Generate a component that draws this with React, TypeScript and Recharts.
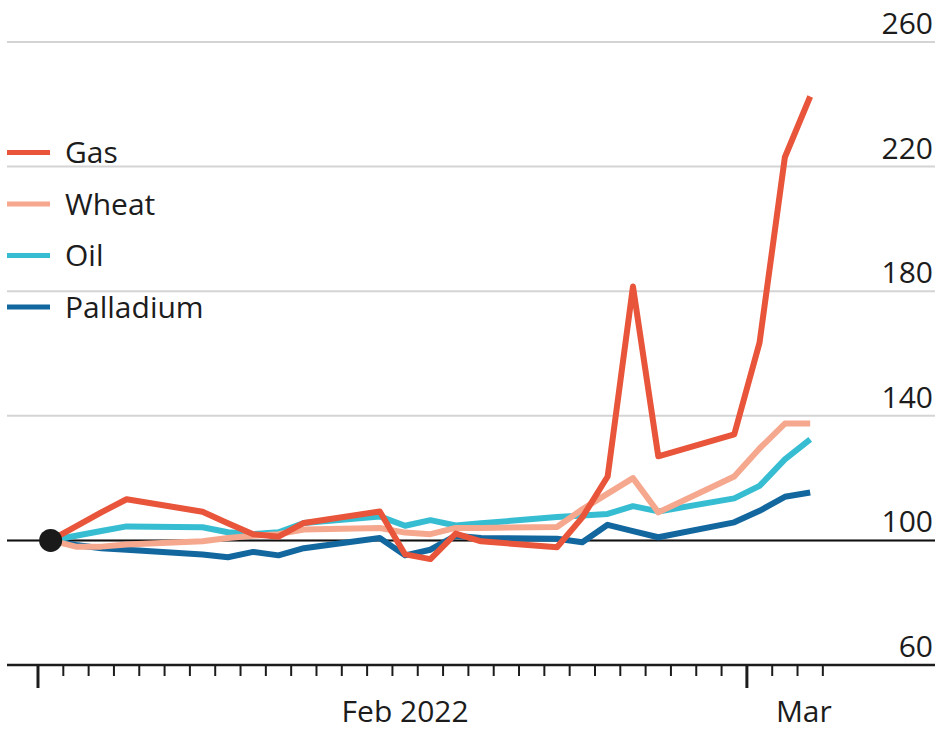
import { LineChart, Line, XAxis, YAxis, CartesianGrid, ReferenceLine, ReferenceDot, Legend } from "recharts";

// trading days, counted from 1 Feb 2022 (Mar 1 = 29)
const tradingDays = [1, 2, 3, 4, 7, 8, 9, 10, 11, 14, 15, 16, 17, 18, 21, 22, 23, 24, 25, 28, 29, 30, 31];

// prices indexed to 1 Feb = 100
const gas = [100, 104.5, 109, 113.2, 109.2, 105.5, 102, 101.2, 105.6, 109.3, 95.5, 94, 102.2, 99.7, 97.8, 107.4, 120.5, 181.5, 127, 134, 163.5, 223, 242.5];
const wheat = [100, 98, 98, 98.7, 99.7, 100.8, 101.5, 102, 103.5, 104, 102.5, 102, 104, 104, 104.3, 110, 115, 120, 109, 120.5, 129.5, 137.5, 137.5];
const oil = [100, 101.5, 103, 104.5, 104.2, 102.6, 102, 102.6, 105.6, 107.7, 104.7, 106.5, 104.8, 105.5, 107.5, 108, 108.5, 111, 109.3, 113.5, 117.5, 126, 132.4];
const palladium = [100, 98.5, 97.5, 97, 95.5, 94.6, 96.3, 95.2, 97.5, 100.8, 95.2, 97, 101.5, 100.8, 100.5, 99.4, 105, 103, 101, 105.8, 109.5, 114, 115.4];

const yTicks = [60, 100, 140, 180, 220, 260];
const dayTicks = Array.from({ length: 32 }, (_, i) => i);
const monthStarts = [0, 28];
const monthLabels = [
  { at: 14.5, text: "Feb 2022" },
  { at: 30.25, text: "Mar" },
];

const series = [
  { key: "palladium", name: "Palladium", color: "#13679f" },
  { key: "oil", name: "Oil", color: "#36bdd2" },
  { key: "wheat", name: "Wheat", color: "#f5a88e" },
  { key: "gas", name: "Gas", color: "#e8553a" },
];
const legendOrder = ["gas", "wheat", "oil", "palladium"];

// each point sits in the middle of its day
const data = tradingDays.map((d, i) => ({
  t: d - 0.5,
  gas: gas[i],
  wheat: wheat[i],
  oil: oil[i],
  palladium: palladium[i],
}));

const FONT = "'Open Sans', sans-serif";
const INK = "#1c1c1c";

function DayTick(props: any) {
  const { x, y, payload } = props;
  const v = payload.value;
  const label = monthLabels.find((m) => m.at === v);
  if (label) {
    return (
      <text x={x} y={y + 57} textAnchor="middle" fontFamily={FONT} fontSize={30} fill={INK}>
        {label.text}
      </text>
    );
  }
  const major = monthStarts.includes(v);
  return (
    <line x1={x} x2={x} y1={y} y2={y + (major ? 23 : 11)} stroke={INK} strokeWidth={major ? 3 : 2} />
  );
}

function ValueTick(props: any) {
  const { x, y, payload } = props;
  return (
    <text x={x - 2} y={y - 8} textAnchor="end" fontFamily={FONT} fontSize={30} fill={INK}>
      {payload.value}
    </text>
  );
}

function LegendBox() {
  return (
    <svg width={260} height={220}>
      {legendOrder.map((k, i) => {
        const s = series.find((e) => e.key === k)!;
        return (
          <g key={k} transform={`translate(0, ${i * 51.5})`}>
            <line x1={7} x2={50} y1={27.5} y2={27.5} stroke={s.color} strokeWidth={5} />
            <text x={65} y={38} fontFamily={FONT} fontSize={30} fill={INK}>
              {s.name}
            </text>
          </g>
        );
      })}
    </svg>
  );
}

export default function App() {
  return (
    <div style={{ position: "absolute", left: 0, top: 0, background: "#fff" }}>
      <LineChart width={938} height={730} data={data} margin={{ top: 42, right: 0, bottom: 0, left: 7 }}>
        <CartesianGrid vertical={false} stroke="#d4d4d4" strokeWidth={2} />
        <XAxis
          dataKey="t"
          type="number"
          domain={[-1.224, 35.43]}
          ticks={[...dayTicks, ...monthLabels.map((m) => m.at)]}
          interval={0}
          height={65}
          tickSize={0}
          tickMargin={0}
          tick={<DayTick />}
          axisLine={{ stroke: INK, strokeWidth: 2.5 }}
          tickLine={false}
        />
        <YAxis
          orientation="right"
          type="number"
          domain={[60, 260]}
          ticks={yTicks}
          interval={0}
          width={3}
          tickSize={0}
          tickMargin={0}
          tick={<ValueTick />}
          axisLine={false}
          tickLine={false}
        />
        <ReferenceLine y={100} stroke="#111" strokeWidth={2} />
        {series.map((s) => (
          <Line
            key={s.key}
            dataKey={s.key}
            name={s.name}
            type="linear"
            stroke={s.color}
            strokeWidth={6}
            strokeLinejoin="round"
            dot={false}
            isAnimationActive={false}
          />
        ))}
        <ReferenceDot x={0.5} y={100} r={11.5} fill="#1a1a1a" stroke="none" />
        <Legend
          layout="vertical"
          align="center"
          verticalAlign="middle"
          content={<LegendBox />}
          wrapperStyle={{ left: 0, top: 125, width: 260, height: 220 }}
        />
      </LineChart>
    </div>
  );
}
